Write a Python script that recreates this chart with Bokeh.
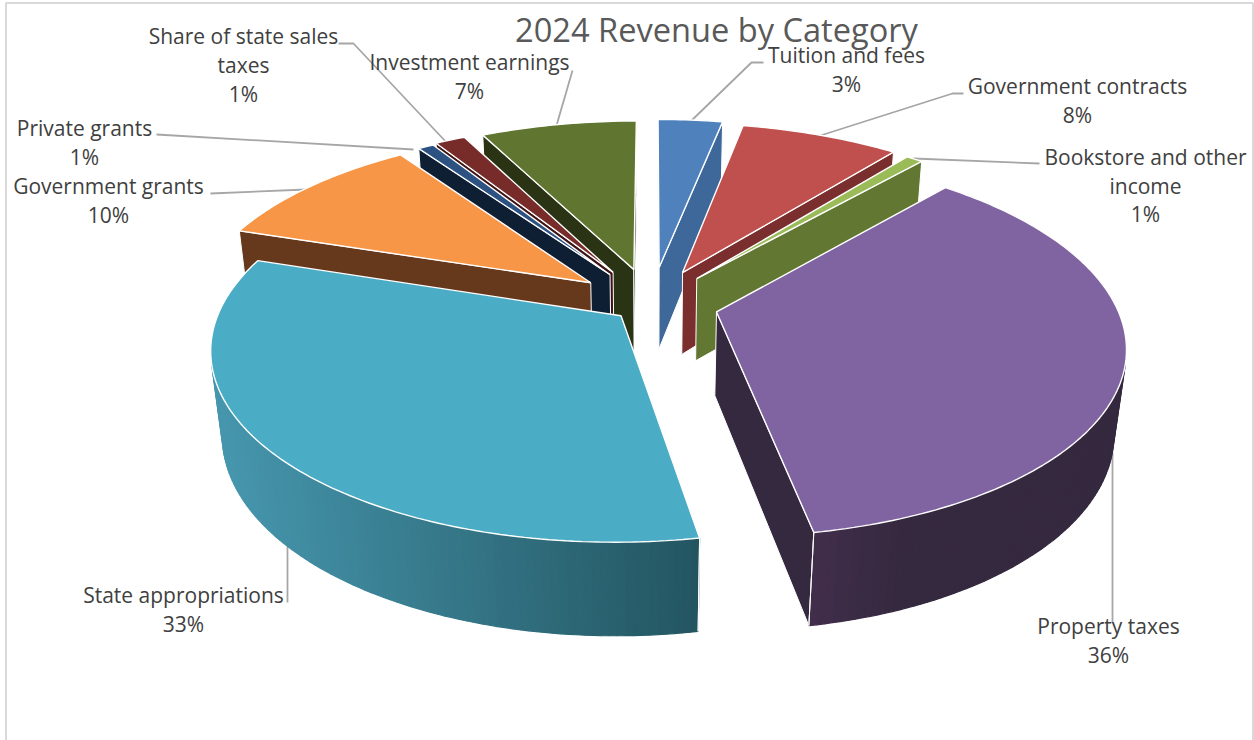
import math
from bokeh.plotting import figure
from bokeh.models import ColumnDataSource, Range1d
from bokeh.core.properties import value
from bokeh.embed import file_html
from bokeh.resources import INLINE

# ---- data -------------------------------------------------------------
categories = ["Tuition and fees", "Government contracts", "Bookstore and other income",
              "Property taxes", "State appropriations", "Government grants",
              "Private grants", "Share of state sales taxes", "Investment earnings"]
shares = [3.1, 7.6, 0.8, 35.65, 32.75, 10.3, 0.75, 1.45, 7.49]
explosion = [81, 76, 72, 67, 40, 77, 77, 80, 78]

# ---- style -------------------------------------------------------------
top_colors = ["#4F81BD", "#C0504D", "#9BBB59", "#8064A2", "#4BACC6", "#F79646",
              "#2C5282", "#772C2A", "#5F7530"]
side_left = ["#3D6899", "#7A2F2E", "#627832", "#35293F", "#4696AD", "#66391C",
             "#0E1E33", "#3F1414", "#2A3313"]
side_right = ["#3D6899", "#7A2F2E", "#627832", "#35293F", "#235561", "#66391C",
              "#0E1E33", "#3F1414", "#2A3313"]
draw_order = [0, 1, 2, 3, 8, 7, 6, 5, 4]
title = "2024 Revenue by Category"
GREY = "#A6A6A6"
TEXT = "#404040"

# projection of the tilted disc
XC, YC, R = 651.0, 303.0, 399.0
K, B, C, D = 0.00042, 0.461, 0.026, 85.5


def project(u, v, z):
    w = 1 + K * v + C * z
    return XC + u / w, YC - (B * v - D * z) / w


def hex_rgb(h):
    return tuple(int(h[i:i + 2], 16) for i in (1, 3, 5))


def side_color(i, x):
    a, b = hex_rgb(side_left[i]), hex_rgb(side_right[i])
    if i == 3:  # property taxes: slightly lighter at the near corner
        t = min(1.0, max(0.0, (x - 810) / 90))
        a, b = (66, 46, 76), hex_rgb(side_left[i])
    else:
        t = min(1.0, max(0.0, (x - 220) / 478))
    return "#%02X%02X%02X" % tuple(round(a[k] + (b[k] - a[k]) * t) for k in range(3))


total = sum(shares)
starts, acc = [], 0.0
for s in shares:
    starts.append(acc)
    acc += s

xs, ys, fills, lines, widths = [], [], [], [], []


def add(poly, fill, line, width):
    xs.append([q[0] for q in poly])
    ys.append([q[1] for q in poly])
    fills.append(fill)
    lines.append(line)
    widths.append(width)


def area(poly):
    return sum(poly[n][0] * poly[(n + 1) % len(poly)][1] - poly[(n + 1) % len(poly)][0] * poly[n][1]
               for n in range(len(poly)))


for i in draw_order:
    t1 = 2 * math.pi * starts[i] / total
    t2 = 2 * math.pi * (starts[i] + shares[i]) / total
    tm = (t1 + t2) / 2
    cu, cv = explosion[i] * math.sin(tm), explosion[i] * math.cos(tm)
    n = max(2, math.ceil((t2 - t1) / math.radians(1.0)))
    angles = [t1 + (t2 - t1) * k / n for k in range(n + 1)]
    rim = [(cu + R * math.sin(a), cv + R * math.cos(a)) for a in angles]

    # radial cut faces
    for (u, v), is_end in ((rim[0], False), (rim[-1], True)):
        quad = [project(cu, cv, 0), project(u, v, 0), project(u, v, 1), project(cu, cv, 1)]
        if (area(quad) > 0) == is_end:
            add(quad, side_left[i] if i != 3 else side_right[3], "#FFFFFF", 1.0)

    # outer wall
    for k in range(n):
        q = [project(*rim[k], 0), project(*rim[k + 1], 0), project(*rim[k + 1], 1), project(*rim[k], 1)]
        if area(q) < 0:
            col = side_color(i, (q[0][0] + q[1][0]) / 2)
            add(q, col, col, 1.2)

    # near corner of the wall
    if i in (3, 4):
        edge = rim[-1] if i == 3 else rim[0]
        add([project(*edge, 0), project(*edge, 1)], "#FFFFFF", "#FFFFFF", 1.0)

    # top
    add([project(cu, cv, 0)] + [project(u, v, 0) for u, v in rim], top_colors[i], "#FFFFFF", 1.4)

p = figure(width=1254, height=740, output_backend="svg", toolbar_location=None,
           x_range=Range1d(0, 1254), y_range=Range1d(740, 0), min_border=0)
p.styles = {"position": "absolute", "left": "0px", "top": "0px"}
p.axis.visible = False
p.grid.visible = False
p.outline_line_color = None

# chart-area frame
p.line([5.5, 5.5, 1252.5, 1252.5], [742, 2.5, 2.5, 742], line_color="#D9D9D9", line_width=2)

# leader lines
leaders = [
    ([338, 353, 447], [43, 43, 143]),
    ([156, 413], [134, 149]),
    ([210, 306], [193, 189]),
    ([572, 556], [70, 125]),
    ([763, 751, 689], [62, 62, 122]),
    ([963, 952, 820], [93, 93, 135]),
    ([1039, 913], [163, 158]),
    ([287, 287], [602, 546]),
    ([1112, 1112], [452, 622]),
]
p.multi_line([l[0] for l in leaders], [l[1] for l in leaders], line_color=GREY, line_width=1.8)

p.patches("xs", "ys", source=ColumnDataSource(dict(xs=xs, ys=ys, fill=fills, line=lines, lw=widths)),
          fill_color="fill", line_color="line", line_width="lw")

# labels: category lines followed by the percentage
label_layout = {
    "Tuition and fees": (846, [54, 83], ["Tuition and fees"]),
    "Government contracts": (1077, [85, 114], ["Government contracts"]),
    "Bookstore and other income": (1145, [156, 185, 213], ["Bookstore and other", "income"]),
    "Property taxes": (1108, [625, 654], ["Property taxes"]),
    "State appropriations": (183, [594, 623], ["State appropriations"]),
    "Government grants": (108, [185, 214], ["Government grants"]),
    "Private grants": (84, [127, 156], ["Private grants"]),
    "Share of state sales taxes": (243, [35, 64, 93], ["Share of state sales", "taxes"]),
    "Investment earnings": (469, [61, 90], ["Investment earnings"]),
}
tx, ty, tt = [], [], []
for c, s in zip(categories, shares):
    cx, yy, parts = label_layout[c]
    rows = parts + ["%d%%" % round(100 * s / total)]
    for y, t in zip(yy, rows):
        tx.append(cx); ty.append(y); tt.append(t)
p.text(tx, ty, text=tt, text_font=value("Open Sans"), text_font_size="21px", text_color=TEXT,
       text_align="center", text_baseline="middle")
p.text([716], [29], text=[title], text_font=value("Open Sans"), text_font_size="32.6px",
       text_color="#595959", text_align="center", text_baseline="middle")

open("out.html", "w").write(file_html(p, INLINE))
